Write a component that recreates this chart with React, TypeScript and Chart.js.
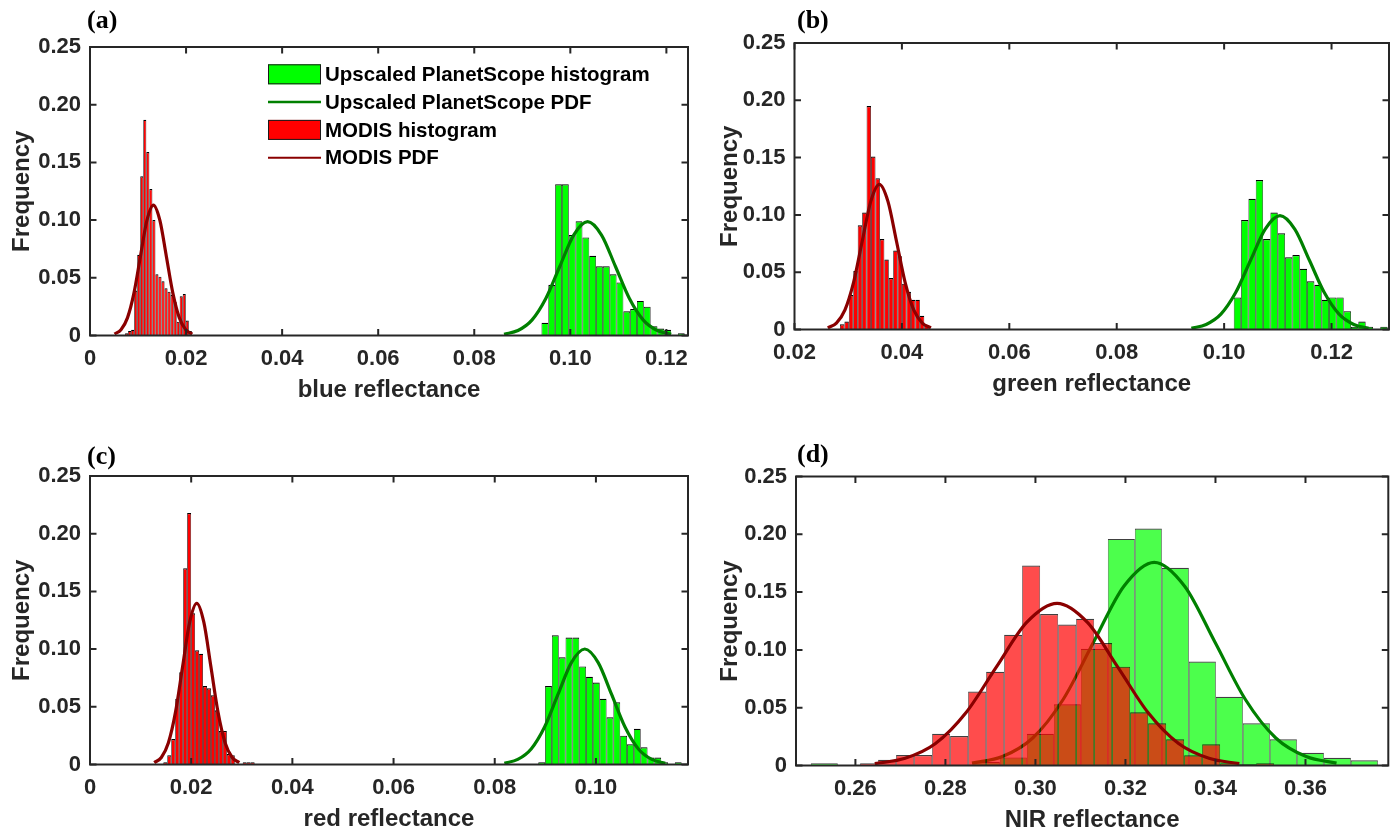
import React, { useEffect, useRef } from 'react';
import { Chart, registerables } from 'chart.js';

Chart.register(...registerables);

// ---------------- data ----------------
const yTicks = [0, 0.05, 0.1, 0.15, 0.2, 0.25];
const legendLabels = ['Upscaled PlanetScope histogram', 'Upscaled PlanetScope PDF', 'MODIS histogram', 'MODIS PDF'];

// (a) blue
const aXTicks = [0, 0.02, 0.04, 0.06, 0.08, 0.1, 0.12];
const aModisBinStart = 0.0073;
const aModisBinWidth = 0.000632;
const aModisHist = [0.002, 0.004, 0.005, 0.039, 0.070, 0.138, 0.187, 0.159, 0.127, 0.100, 0.053, 0.051, 0.047, 0.041, 0.038, 0.035, 0.029, 0.012, 0.034, 0.036, 0.013, 0.004];
const aPlanetBinStart = 0.0940;
const aPlanetBinWidth = 0.00142;
const aPlanetHist = [0.011, 0.044, 0.131, 0.131, 0.087, 0.099, 0.085, 0.069, 0.060, 0.060, 0.053, 0.046, 0.021, 0.023, 0.030, 0.025, 0.008, 0.006, 0.005, 0, 0.002];
const aModisPdfX = [0.0051, 0.00645, 0.0078, 0.00915, 0.0105, 0.01185, 0.0132, 0.01455, 0.0159, 0.01725, 0.0186, 0.01995, 0.0213];
const aModisPdfY = [0.0013, 0.0050, 0.0153, 0.0367, 0.0685, 0.0997, 0.113, 0.0997, 0.0685, 0.0367, 0.0153, 0.0050, 0.0013];
const aPlanetPdfX = [0.0862, 0.0891, 0.0920, 0.0949, 0.0978, 0.1007, 0.1036, 0.1065, 0.1094, 0.1123, 0.1152, 0.1181, 0.1210];
const aPlanetPdfY = [0.0011, 0.0043, 0.0133, 0.0320, 0.0598, 0.0870, 0.0986, 0.0870, 0.0598, 0.0320, 0.0133, 0.0043, 0.0011];

// (b) green
const bXTicks = [0.02, 0.04, 0.06, 0.08, 0.1, 0.12];
const bModisBinStart = 0.02847;
const bModisBinWidth = 0.000826;
const bModisHist = [0.0045, 0.007, 0.030, 0.051, 0.091, 0.102, 0.195, 0.151, 0.132, 0.079, 0.061, 0.045, 0.069, 0.064, 0.040, 0.033, 0.026, 0.026, 0.012, 0.004];
const bPlanetBinStart = 0.1018;
const bPlanetBinWidth = 0.001364;
const bPlanetHist = [0.028, 0.0955, 0.114, 0.1305, 0.079, 0.102, 0.084, 0.063, 0.065, 0.053, 0.042, 0.039, 0.026, 0.028, 0.028, 0.016, 0.0025, 0.007, 0.0025, 0, 0.0025];
const bModisPdfX = [0.0262, 0.0278, 0.0294, 0.0310, 0.0326, 0.0342, 0.0358, 0.0374, 0.0390, 0.0406, 0.0422, 0.0438, 0.0454];
const bModisPdfY = [0.0014, 0.0056, 0.0171, 0.0411, 0.0768, 0.1118, 0.1267, 0.1118, 0.0768, 0.0411, 0.0171, 0.0056, 0.0014];
const bPlanetPdfX = [0.0939, 0.09665, 0.0994, 0.10215, 0.1049, 0.10765, 0.1104, 0.11315, 0.1159, 0.11865, 0.1214, 0.12415, 0.1269];
const bPlanetPdfY = [0.0011, 0.0044, 0.0134, 0.0322, 0.0602, 0.0876, 0.0993, 0.0876, 0.0602, 0.0322, 0.0134, 0.0044, 0.0011];

// (c) red
const cXTicks = [0, 0.02, 0.04, 0.06, 0.08, 0.1];
const cModisBinStart = 0.01449;
const cModisBinWidth = 0.000785;
const cModisHist = [0.002, 0.008, 0.022, 0.057, 0.080, 0.170, 0.218, 0.131, 0.099, 0.096, 0.068, 0.066, 0.060, 0.047, 0.029, 0.029, 0.009, 0.008, 0, 0, 0.002, 0.002, 0.002];
const cPlanetBinStart = 0.0886;
const cPlanetBinWidth = 0.00135;
const cPlanetHist = [0.002, 0.068, 0.112, 0.093, 0.110, 0.110, 0.085, 0.076, 0.071, 0.057, 0.041, 0.054, 0.025, 0.0175, 0.031, 0.015, 0.006, 0.006, 0.002, 0, 0.002];
const cModisPdfX = [0.0127, 0.0141, 0.0155, 0.0169, 0.0183, 0.0197, 0.0211, 0.0225, 0.0239, 0.0253, 0.0267, 0.0281, 0.0295];
const cModisPdfY = [0.0016, 0.0061, 0.0189, 0.0454, 0.0847, 0.1233, 0.1397, 0.1233, 0.0847, 0.0454, 0.0189, 0.0061, 0.0016];
const cPlanetPdfX = [0.0819, 0.08455, 0.0872, 0.08985, 0.0925, 0.09515, 0.0978, 0.10045, 0.1031, 0.10575, 0.1084, 0.11105, 0.1137];
const cPlanetPdfY = [0.0011, 0.0044, 0.0135, 0.0325, 0.0607, 0.0883, 0.1001, 0.0883, 0.0607, 0.0325, 0.0135, 0.0044, 0.0011];

// (d) NIR
const dXTicks = [0.26, 0.28, 0.3, 0.32, 0.34, 0.36];
const dModisBinStart = 0.26104;
const dModisBinWidth = 0.004;
const dModisHist = [0.002, 0.005, 0.009, 0.009, 0.0275, 0.0255, 0.064, 0.081, 0.113, 0.173, 0.131, 0.122, 0.127, 0.106, 0.0855, 0.046, 0.0365, 0.0227, 0.0088, 0.0183, 0.002, 0.001, 0.002];
const dPlanetBinStart = 0.25009;
const dPlanetBinWidth = 0.006;
const dPlanetHist = [0.002, 0, 0, 0, 0, 0, 0.003, 0.007, 0.0275, 0.053, 0.101, 0.196, 0.205, 0.171, 0.090, 0.0595, 0.0365, 0.0227, 0.011, 0.0067, 0.0045];
const dModisPdfX = [0.2643, 0.27105, 0.2778, 0.28455, 0.2913, 0.29805, 0.3048, 0.31155, 0.3183, 0.32505, 0.3318, 0.33855, 0.3453];
const dModisPdfY = [0.0016, 0.0062, 0.0190, 0.0456, 0.0851, 0.1238, 0.1403, 0.1238, 0.0851, 0.0456, 0.0190, 0.0062, 0.0016];
const dPlanetPdfX = [0.2859, 0.29265, 0.2994, 0.30615, 0.3129, 0.31965, 0.3264, 0.33315, 0.3399, 0.34665, 0.3534, 0.36015, 0.3669];
const dPlanetPdfY = [0.0020, 0.0077, 0.0238, 0.0571, 0.1066, 0.1551, 0.1758, 0.1551, 0.1066, 0.0571, 0.0238, 0.0077, 0.0020];

// ---------------- layout / style ----------------
const SANS = "'Liberation Sans', Arial, sans-serif";
const SERIF = "'Liberation Serif', 'Times New Roman', serif";
const AXIS_COLOR = '#262626';
const TICK_LEN = 6.5;

type PanelCfg = {
  left: number; top: number; width: number; height: number;
  area: { l: number; r: number; t: number; b: number };
  xMin: number; xMax: number; xTicks: number[]; xTitle: string;
  yTitlePad: number; xTitlePad: number;
  letter: string; letterX: number; letterY: number;
  modis: { start: number; width: number; values: number[] };
  planet: { start: number; width: number; values: number[] };
  modisPdf: { x: number[]; y: number[] };
  planetPdf: { x: number[]; y: number[] };
  translucent: boolean; legend: boolean;
};

const panels: PanelCfg[] = [
  {
    left: 0, top: 0, width: 700, height: 416,
    area: { l: 90, r: 688, t: 47, b: 335.5 },
    xMin: 0, xMax: 0.1245, xTicks: aXTicks, xTitle: 'blue reflectance',
    yTitlePad: 10, xTitlePad: 13.5, letter: '(a)', letterX: 87, letterY: 21,
    modis: { start: aModisBinStart, width: aModisBinWidth, values: aModisHist },
    planet: { start: aPlanetBinStart, width: aPlanetBinWidth, values: aPlanetHist },
    modisPdf: { x: aModisPdfX, y: aModisPdfY }, planetPdf: { x: aPlanetPdfX, y: aPlanetPdfY },
    translucent: false, legend: true,
  },
  {
    left: 700, top: 0, width: 699, height: 416,
    area: { l: 94.5, r: 689, t: 43, b: 329.5 },
    xMin: 0.02, xMax: 0.1307, xTicks: bXTicks, xTitle: 'green reflectance',
    yTitlePad: 18, xTitlePad: 19.5, letter: '(b)', letterX: 97, letterY: 21,
    modis: { start: bModisBinStart, width: bModisBinWidth, values: bModisHist },
    planet: { start: bPlanetBinStart, width: bPlanetBinWidth, values: bPlanetHist },
    modisPdf: { x: bModisPdfX, y: bModisPdfY }, planetPdf: { x: bPlanetPdfX, y: bPlanetPdfY },
    translucent: false, legend: false,
  },
  {
    left: 0, top: 416, width: 700, height: 417,
    area: { l: 90, r: 688, t: 60, b: 348.5 },
    xMin: 0, xMax: 0.1182, xTicks: cXTicks, xTitle: 'red reflectance',
    yTitlePad: 10, xTitlePad: 1.5, letter: '(c)', letterX: 87, letterY: 41,
    modis: { start: cModisBinStart, width: cModisBinWidth, values: cModisHist },
    planet: { start: cPlanetBinStart, width: cPlanetBinWidth, values: cPlanetHist },
    modisPdf: { x: cModisPdfX, y: cModisPdfY }, planetPdf: { x: cPlanetPdfX, y: cPlanetPdfY },
    translucent: false, legend: false,
  },
  {
    left: 700, top: 416, width: 699, height: 417,
    area: { l: 96, r: 688.3, t: 60.5, b: 349.5 },
    xMin: 0.2468, xMax: 0.3784, xTicks: dXTicks, xTitle: 'NIR reflectance',
    yTitlePad: 18, xTitlePad: 0.5, letter: '(d)', letterX: 97, letterY: 39,
    modis: { start: dModisBinStart, width: dModisBinWidth, values: dModisHist },
    planet: { start: dPlanetBinStart, width: dPlanetBinWidth, values: dPlanetHist },
    modisPdf: { x: dModisPdfX, y: dModisPdfY }, planetPdf: { x: dPlanetPdfX, y: dPlanetPdfY },
    translucent: true, legend: false,
  },
];

const binPoints = (start: number, width: number, values: number[]) =>
  values.map((v, i) => ({ x: start + width * (i + 0.5), y: v }));
const pdfPoints = (xs: number[], ys: number[]) => xs.map((x, i) => ({ x, y: ys[i] }));
const fmt = (v: any) => (Number(v) === 0 ? '0' : Number(v).toFixed(2));

const framePlugin = {
  id: 'matlabFrame',
  afterDatasetsDraw(chart: any) {
    const { ctx, chartArea } = chart;
    const { left, right, top, bottom } = chartArea;
    const xs = chart.scales.x;
    const ys = chart.scales.y;
    ctx.save();
    ctx.strokeStyle = AXIS_COLOR;
    ctx.lineWidth = 2;
    ctx.beginPath();
    xs.ticks.forEach((t: any) => {
      const p = xs.getPixelForValue(t.value);
      ctx.moveTo(p, bottom); ctx.lineTo(p, bottom - TICK_LEN);
      ctx.moveTo(p, top); ctx.lineTo(p, top + TICK_LEN);
    });
    ys.ticks.forEach((t: any) => {
      const p = ys.getPixelForValue(t.value);
      ctx.moveTo(left, p); ctx.lineTo(left + TICK_LEN, p);
      ctx.moveTo(right, p); ctx.lineTo(right - TICK_LEN, p);
    });
    ctx.stroke();
    ctx.strokeRect(left, top, right - left, bottom - top);
    ctx.restore();
  },
};

function makeOverlay(cfg: PanelCfg) {
  return {
    id: 'panelOverlay',
    afterDraw(chart: any) {
      const { ctx } = chart;
      ctx.save();
      ctx.fillStyle = '#000';
      ctx.font = `bold 26px ${SERIF}`;
      ctx.textBaseline = 'middle';
      ctx.textAlign = 'left';
      ctx.fillText(cfg.letter, cfg.letterX, cfg.letterY);
      if (cfg.legend) {
        const order = [3, 2, 1, 0];
        const lx = 268, lw = 53, tx = 325, y0 = 74.3, step = 27.8;
        order.forEach((di, i) => {
          const ds = chart.data.datasets[di];
          const cy = y0 + i * step;
          if (ds.type === 'line') {
            ctx.strokeStyle = ds.borderColor;
            ctx.lineWidth = di === 2 ? 2.5 : 2;
            ctx.beginPath();
            ctx.moveTo(lx, cy);
            ctx.lineTo(lx + lw, cy);
            ctx.stroke();
          } else {
            ctx.fillStyle = ds.backgroundColor;
            ctx.fillRect(lx, cy - 10, lw, 20);
            ctx.strokeStyle = '#1a1a1a';
            ctx.lineWidth = 1;
            ctx.strokeRect(lx + 0.5, cy - 9.5, lw - 1, 19);
          }
          ctx.fillStyle = '#000';
          ctx.font = `bold 20.5px ${SANS}`;
          ctx.textBaseline = 'middle';
          ctx.fillText(ds.label, tx, cy + 1);
        });
      }
      ctx.restore();
    },
  };
}

function Panel({ cfg }: { cfg: PanelCfg }) {
  const ref = useRef<HTMLCanvasElement | null>(null);
  useEffect(() => {
    if (!ref.current) return;
    const modisFill = cfg.translucent ? 'rgba(255,0,0,0.7)' : '#ff0000';
    const planetFill = cfg.translucent ? 'rgba(0,255,0,0.7)' : '#00ff00';
    const edge = cfg.translucent ? 'rgba(0,0,0,0.75)' : '#000000';
    const barBorder = { top: 1.2, left: 0.7, right: 0.7, bottom: 0 };
    const tickFont = { family: SANS, size: 22, weight: 'bold' as const };
    const titleFont = { family: SANS, size: 24, weight: 'bold' as const, lineHeight: 1 };
    const setX = (s: any) => { s.ticks = cfg.xTicks.map((v) => ({ value: v })); };
    const chart = new Chart(ref.current, {
      type: 'bar',
      data: {
        datasets: [
          {
            type: 'line', label: legendLabels[3], data: pdfPoints(cfg.modisPdf.x, cfg.modisPdf.y),
            xAxisID: 'x', yAxisID: 'y', borderColor: '#8a0000', borderWidth: 3.2, pointRadius: 0,
            cubicInterpolationMode: 'monotone', fill: false,
          },
          {
            type: 'bar', label: legendLabels[2], data: binPoints(cfg.modis.start, cfg.modis.width, cfg.modis.values),
            xAxisID: 'x', yAxisID: 'y', backgroundColor: modisFill, borderColor: edge, borderWidth: barBorder,
            borderSkipped: false, barPercentage: 1, categoryPercentage: 1, grouped: false, inflateAmount: 0,
          },
          {
            type: 'line', label: legendLabels[1], data: pdfPoints(cfg.planetPdf.x, cfg.planetPdf.y),
            xAxisID: 'x', yAxisID: 'y', borderColor: '#008000', borderWidth: 3.2, pointRadius: 0,
            cubicInterpolationMode: 'monotone', fill: false,
          },
          {
            type: 'bar', label: legendLabels[0], data: binPoints(cfg.planet.start, cfg.planet.width, cfg.planet.values),
            xAxisID: 'xg', yAxisID: 'y', backgroundColor: planetFill, borderColor: edge, borderWidth: barBorder,
            borderSkipped: false, barPercentage: 1, categoryPercentage: 1, grouped: false, inflateAmount: 0,
          },
        ] as any,
      },
      options: {
        responsive: false,
        maintainAspectRatio: false,
        devicePixelRatio: 1,
        animation: false,
        events: [],
        layout: { padding: { left: 0, top: cfg.area.t, right: cfg.width - cfg.area.r, bottom: 0 } },
        plugins: { legend: { display: false }, tooltip: { enabled: false }, title: { display: false } },
        scales: {
          x: {
            type: 'linear', position: 'bottom', min: cfg.xMin, max: cfg.xMax, bounds: 'data', offset: false,
            grid: { display: false, drawTicks: false }, border: { display: false },
            ticks: { autoSkip: false, maxRotation: 0, minRotation: 0, padding: 10, font: tickFont, color: AXIS_COLOR, callback: fmt },
            title: { display: true, text: cfg.xTitle, font: titleFont, color: AXIS_COLOR, padding: { top: 0, bottom: cfg.xTitlePad } },
            afterBuildTicks: setX,
            afterFit: (s: any) => { s.height = cfg.height - cfg.area.b; },
          },
          xg: {
            type: 'linear', display: false, position: 'bottom', min: cfg.xMin, max: cfg.xMax, bounds: 'data', offset: false,
            grid: { display: false }, afterBuildTicks: setX,
          },
          y: {
            type: 'linear', position: 'left', min: 0, max: 0.25, bounds: 'data',
            grid: { display: false, drawTicks: false }, border: { display: false },
            ticks: { autoSkip: false, padding: 9, font: tickFont, color: AXIS_COLOR, callback: fmt },
            title: { display: true, text: 'Frequency', font: titleFont, color: AXIS_COLOR, padding: { top: cfg.yTitlePad, bottom: 0 } },
            afterBuildTicks: (s: any) => { s.ticks = yTicks.map((v) => ({ value: v })); },
            afterFit: (s: any) => { s.width = cfg.area.l; },
          },
        } as any,
      },
      plugins: [framePlugin, makeOverlay(cfg)],
    } as any);
    return () => chart.destroy();
  }, [cfg]);
  return (
    <canvas
      ref={ref}
      width={cfg.width}
      height={cfg.height}
      style={{ position: 'absolute', left: cfg.left, top: cfg.top, width: cfg.width, height: cfg.height }}
    />
  );
}

export default function App() {
  useEffect(() => {
    document.body.style.margin = '0';
    document.body.style.background = '#ffffff';
  }, []);
  return (
    <div style={{ position: 'absolute', left: 0, top: 0, width: 1399, height: 833, overflow: 'hidden', background: '#fff' }}>
      {panels.map((p, i) => (
        <Panel key={i} cfg={p} />
      ))}
    </div>
  );
}
